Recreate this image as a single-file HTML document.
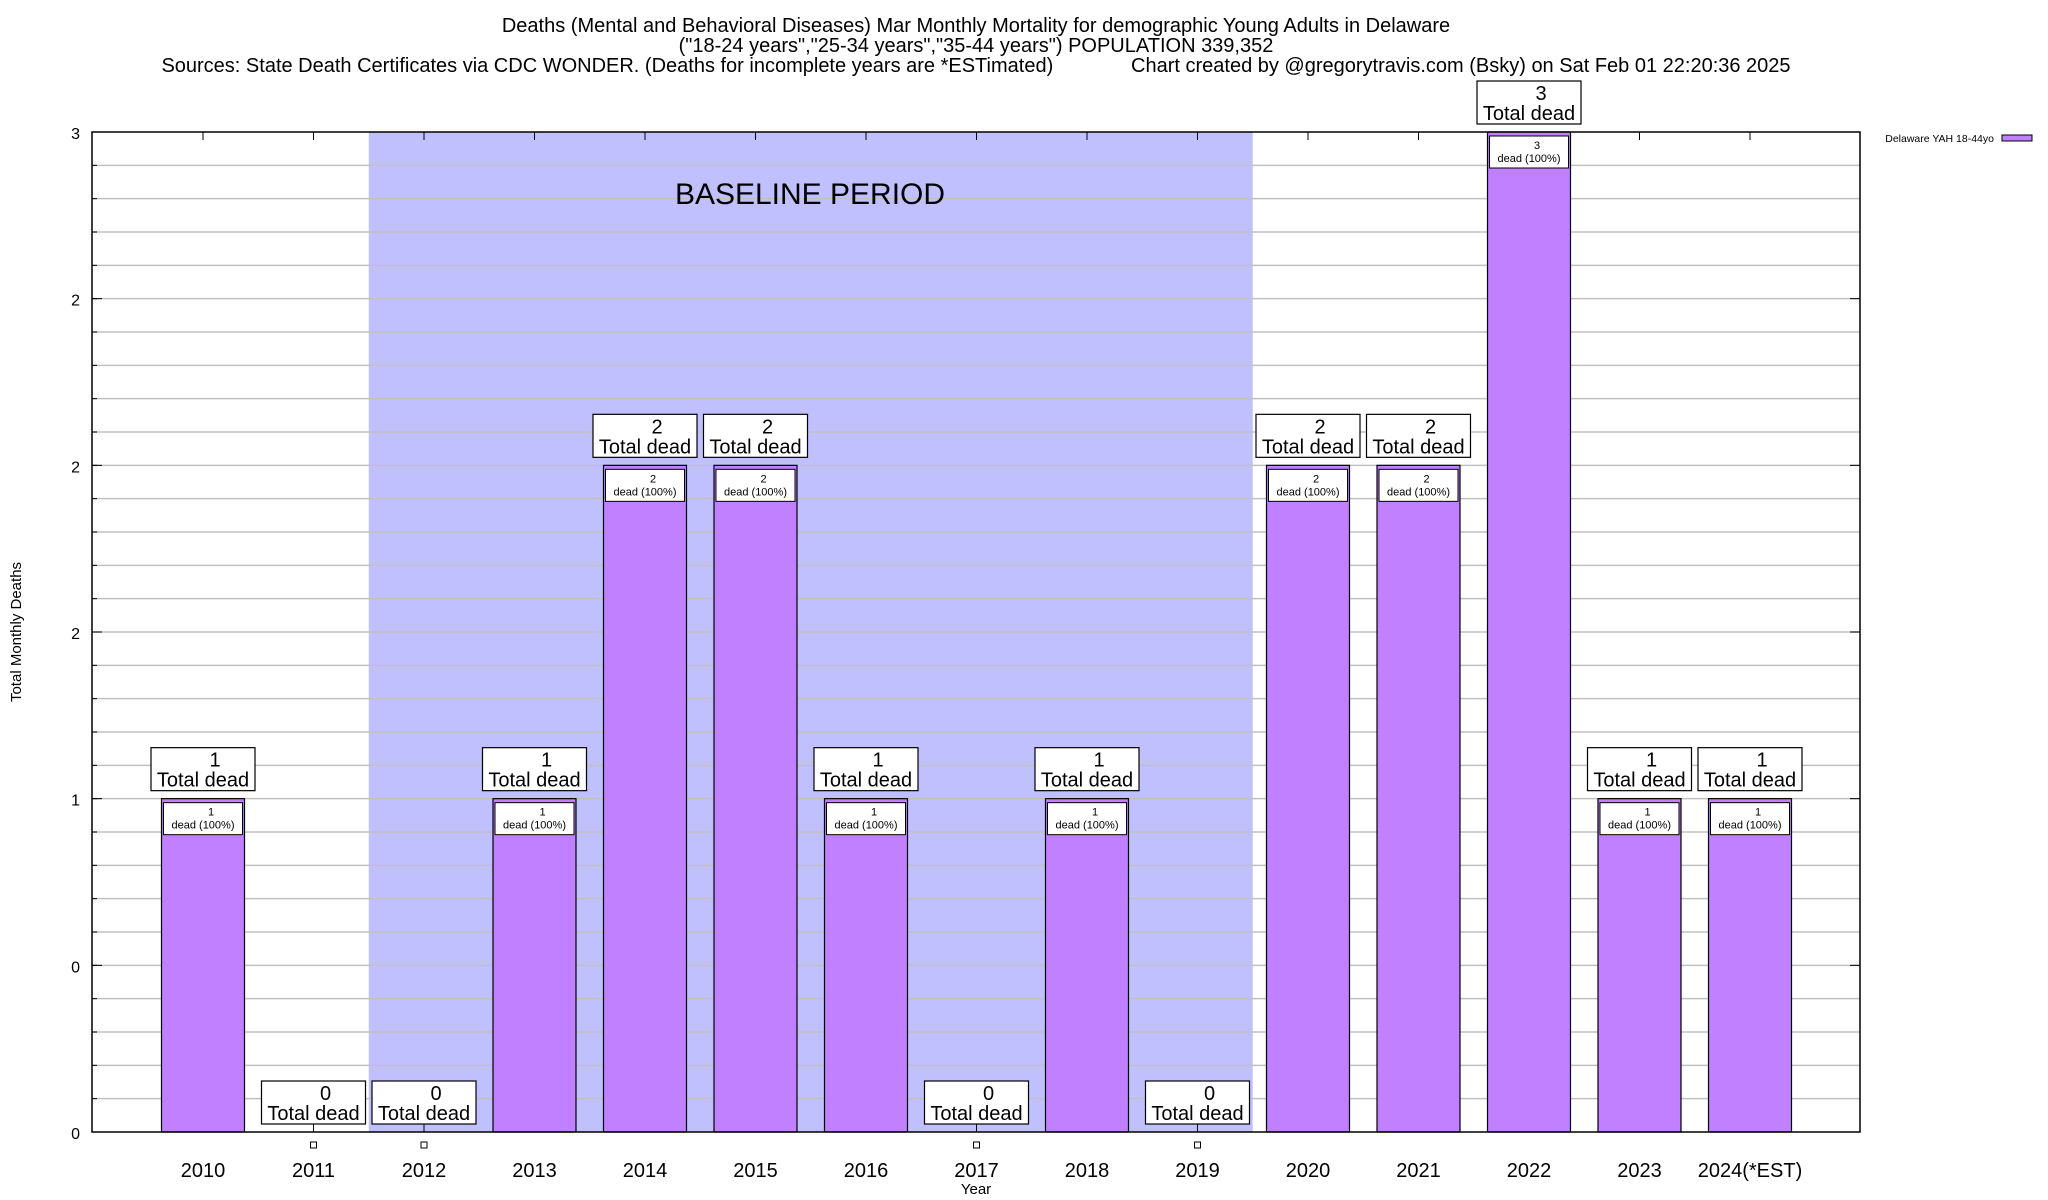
<!DOCTYPE html>
<html><head><meta charset="utf-8"><style>
html,body{margin:0;padding:0;background:#fff;}
svg{display:block;font-family:"Liberation Sans",Arial,sans-serif;}
</style></head><body>
<svg id="chart" width="2048" height="1200" viewBox="0 0 2048 1200" xmlns="http://www.w3.org/2000/svg">
<g font-size="20" text-anchor="middle" fill="#000">
<text x="976" y="32">Deaths (Mental and Behavioral Diseases) Mar Monthly Mortality for demographic Young Adults in Delaware</text>
<text x="976" y="52">("18-24 years","25-34 years","35-44 years") POPULATION 339,352</text>
<text x="976" y="72" xml:space="preserve">Sources: State Death Certificates via CDC WONDER. (Deaths for incomplete years are *ESTimated)              Chart created by @gregorytravis.com (Bsky) on Sat Feb 01 22:20:36 2025</text>
</g>
<g id="plot"></g>
<text x="976" y="1194" font-size="15" text-anchor="middle">Year</text>
<text transform="translate(21,632) rotate(-90)" font-size="15" text-anchor="middle">Total Monthly Deaths</text>
<g>
<text x="1994" y="142" font-size="10.5" text-anchor="end">Delaware YAH 18-44yo</text>
<rect x="2002" y="135" width="30" height="6" fill="#c080ff" stroke="#000"/>
</g>
</svg>
<script>
const categories = ["2010","2011","2012","2013","2014","2015","2016","2017","2018","2019","2020","2021","2022","2023","2024(*EST)"];
const deaths = [1,0,0,1,2,2,1,0,1,0,2,2,3,1,1];
const yTickValues = [0,0.5,1,1.5,2,2.5,3];
const yTickLabels = ["0","0","1","2","2","2","3"];
const baselineStart = 1.5, baselineEnd = 9.5;

const NS = "http://www.w3.org/2000/svg";
const L = 92, R = 1860, T = 132, B = 1132;
const x0 = 203, step = 110.5, barW = 83;
const xs = i => x0 + i * step;
const ys = v => B - (v / 3) * (B - T);
const plot = document.getElementById('plot');
function mk(tag, attrs, parent) {
  const e = document.createElementNS(NS, tag);
  for (const k in attrs) e.setAttribute(k, attrs[k]);
  (parent || plot).appendChild(e);
  return e;
}
const sh = mk('rect', {x: xs(baselineStart), y: T, width: xs(baselineEnd) - xs(baselineStart), height: B - T, fill: '#c0c0ff'});


for (let k = 1; k < 30; k++) {
  const y = ys(k / 10);
  const g = mk('line', {x1: L, x2: R, y1: y, y2: y, stroke: '#c0c0c0', 'stroke-width': 1.5});
  
  
  const t1 = mk('line', {x1: L, x2: L + 5, y1: y, y2: y, stroke: '#000'});
  
  
}
const bt = mk('text', {x: 810, y: 204, 'font-size': 30, 'text-anchor': 'middle'});
bt.textContent = 'BASELINE PERIOD';


yTickValues.forEach((v, i) => {
  const y = ys(v);
  const t = mk('text', {x: 80, y: y + 7, 'font-size': 16, 'text-anchor': 'end'});
  t.textContent = yTickLabels[i];
  
  
  const tk = mk('line', {x1: L, x2: L + 10, y1: y, y2: y, stroke: '#000'});
  
  
  const tr = mk('line', {x1: R - 10, x2: R, y1: y, y2: y, stroke: '#000'});
  
  
});
categories.forEach((c, i) => {
  const cx = xs(i), v = deaths[i];
  const tk = mk('line', {x1: cx, x2: cx, y1: T, y2: T + 8, stroke: '#000'});
  
  
  const lab = mk('text', {x: cx, y: 1177, 'font-size': 20, 'text-anchor': 'middle'});
  lab.textContent = c;
  
  
  const top = ys(v);
  if (v > 0) {
    const b = mk('rect', {x: cx - barW / 2, y: top, width: barW, height: B - top, fill: '#c080ff', stroke: '#000', 'stroke-width': 1.2});
    
    
    const ib = mk('rect', {x: cx - barW / 2 + 2, y: top + 4, width: barW - 4, height: 32, fill: '#fff', stroke: '#000'});
    
    
    const it1 = mk('text', {x: cx + 8, y: top + 17, 'font-size': 11, 'text-anchor': 'middle'});
    it1.textContent = String(v);
    
    
    const it2 = mk('text', {x: cx, y: top + 30, 'font-size': 11, 'text-anchor': 'middle'});
    it2.textContent = 'dead (100%)';
    
    
  } else {
    const m = mk('rect', {x: cx - 3, y: 1142, width: 6, height: 6, fill: '#fff', stroke: '#000'});
    
    
    const ln = mk('line', {x1: cx, x2: cx, y1: top - 8, y2: top, stroke: '#000'});
    
    
  }
  const by = top - 8 - 43;
  const box = mk('rect', {x: cx - 52, y: by, width: 104, height: 43, fill: '#fff', stroke: '#000', 'stroke-width': 1.2});
  
  
  const n = mk('text', {x: cx + 12, y: by + 19, 'font-size': 20, 'text-anchor': 'middle'});
  n.textContent = String(v);
  
  
  const td = mk('text', {x: cx, y: by + 39, 'font-size': 20, 'text-anchor': 'middle'});
  td.textContent = 'Total dead';
  
  
});
const fr = mk('rect', {x: L, y: T, width: R - L, height: B - T, fill: 'none', stroke: '#000', 'stroke-width': 1.5});


</script>
</body></html>
